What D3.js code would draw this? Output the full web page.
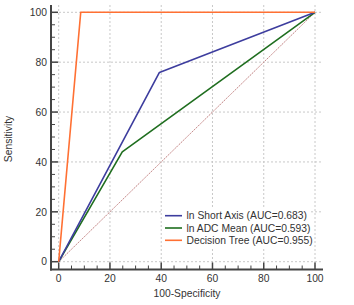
<!DOCTYPE html>
<html><head><meta charset="utf-8">
<script src="https://cdn.jsdelivr.net/npm/d3@7"></script>
<style>body{margin:0;background:#fff}svg{display:block;font-family:"Liberation Sans",Arial,sans-serif}</style>
</head><body>
<svg id="c" width="354" height="305"></svg>
<script>
const ticks = [0, 20, 40, 60, 80, 100];
const minorTicks = d3.range(0, 101, 5);
const seriesNames = ["ln Short Axis (AUC=0.683)", "ln ADC Mean (AUC=0.593)", "Decision Tree (AUC=0.955)"];
const seriesColors = ["#3d3d9e", "#1f6e1f", "#ff7033"];
const shortAxisX = [0, 39.3, 100];
const shortAxisY = [0, 75.9, 100];
const adcMeanX = [0, 24.8, 100];
const adcMeanY = [0, 44, 100];
const treeX = [0, 8.6, 100];
const treeY = [0, 100, 100];
const diagX = [0, 100];
const diagY = [0, 100];

const svg = d3.select("#c");
const x = d3.scaleLinear().domain([0, 100]).range([58.7, 315]);
const y = d3.scaleLinear().domain([0, 100]).range([261.7, 12.3]);
const pLeft = 51, pRight = 323, pTop = 5, pBottom = 269.5;
const fs = 10.3;

// grid
const g = svg.append("g");
g.selectAll(".vg").data(ticks).join("line")
  .attr("x1", d => x(d)).attr("x2", d => x(d)).attr("y1", pTop).attr("y2", pBottom)
  .attr("stroke", "#c8c8c8").attr("stroke-dasharray", "2,2").attr("stroke-width", 1);
g.selectAll(".hg").data(ticks).join("line")
  .attr("y1", d => y(d)).attr("y2", d => y(d)).attr("x1", pLeft).attr("x2", pRight)
  .attr("stroke", "#c8c8c8").attr("stroke-dasharray", "2,2").attr("stroke-width", 1);

// diagonal
const line = d3.line().x(d => x(d[0])).y(d => y(d[1]));
const diag = diagX.map((v, i) => [v, diagY[i]]);
svg.append("path").attr("d", line(diag)).attr("fill", "none").attr("stroke", "#ecd2d2").attr("stroke-width", 1);
svg.append("path").attr("d", line(diag)).attr("fill", "none").attr("stroke", "#b06a6a").attr("stroke-width", 0.9).attr("stroke-dasharray", "1,2");

// series
const series = [[adcMeanX, adcMeanY], [shortAxisX, shortAxisY], [treeX, treeY]];
const order = [1, 0, 2];
series.forEach((s, k) => {
  const idx = order[k];
  svg.append("path").attr("d", line(s[0].map((v, i) => [v, s[1][i]])))
    .attr("fill", "none").attr("stroke", seriesColors[idx]).attr("stroke-width", 1.6)
    .attr("stroke-linejoin", "round");
});

// axes
const ax = svg.append("g").attr("stroke", "#444");
ax.append("line").attr("x1", pLeft).attr("x2", pLeft).attr("y1", pTop).attr("y2", pBottom + 1).attr("stroke-width", 2);
ax.append("line").attr("x1", pLeft - 1).attr("x2", pRight).attr("y1", pBottom).attr("y2", pBottom).attr("stroke-width", 2);
ax.selectAll(".xt").data(minorTicks).join("line")
  .attr("x1", d => x(d)).attr("x2", d => x(d)).attr("y1", pBottom)
  .attr("y2", d => pBottom - (d % 20 === 0 ? 7 : 4)).attr("stroke-width", d => d % 20 === 0 ? 1.5 : 1);
ax.selectAll(".yt").data(minorTicks).join("line")
  .attr("y1", d => y(d)).attr("y2", d => y(d)).attr("x1", pLeft)
  .attr("x2", d => pLeft + (d % 20 === 0 ? 7 : 4)).attr("stroke-width", d => d % 20 === 0 ? 1.5 : 1);

svg.selectAll(".xl").data(ticks).join("text")
  .attr("x", d => x(d)).attr("y", 282).attr("text-anchor", "middle")
  .attr("font-size", fs).attr("fill", "#333").text(d => d);
svg.selectAll(".yl").data(ticks).join("text")
  .attr("x", 47).attr("y", d => y(d) + 3.7).attr("text-anchor", "end")
  .attr("font-size", fs).attr("fill", "#333").text(d => d);

svg.append("text").attr("x", (pLeft + pRight) / 2).attr("y", 297).attr("text-anchor", "middle")
  .attr("font-size", fs).attr("fill", "#333").text("100-Specificity");
svg.append("text").attr("transform", "translate(11.5,139) rotate(-90)").attr("text-anchor", "middle")
  .attr("font-size", fs).attr("fill", "#333").text("Sensitivity");

// legend
const lg = svg.append("g");
lg.append("rect").attr("x", 163).attr("y", 209).attr("width", 148).attr("height", 38).attr("fill", "#fff");
seriesNames.forEach((n, i) => {
  const yy = 215.7 + i * 12.3;
  lg.append("line").attr("x1", 165).attr("x2", 182).attr("y1", yy).attr("y2", yy)
    .attr("stroke", seriesColors[i]).attr("stroke-width", 1.6);
  lg.append("text").attr("x", 186.5).attr("y", yy + 3.7).attr("font-size", fs).attr("fill", "#333").text(n);
});
</script>
</body></html>
